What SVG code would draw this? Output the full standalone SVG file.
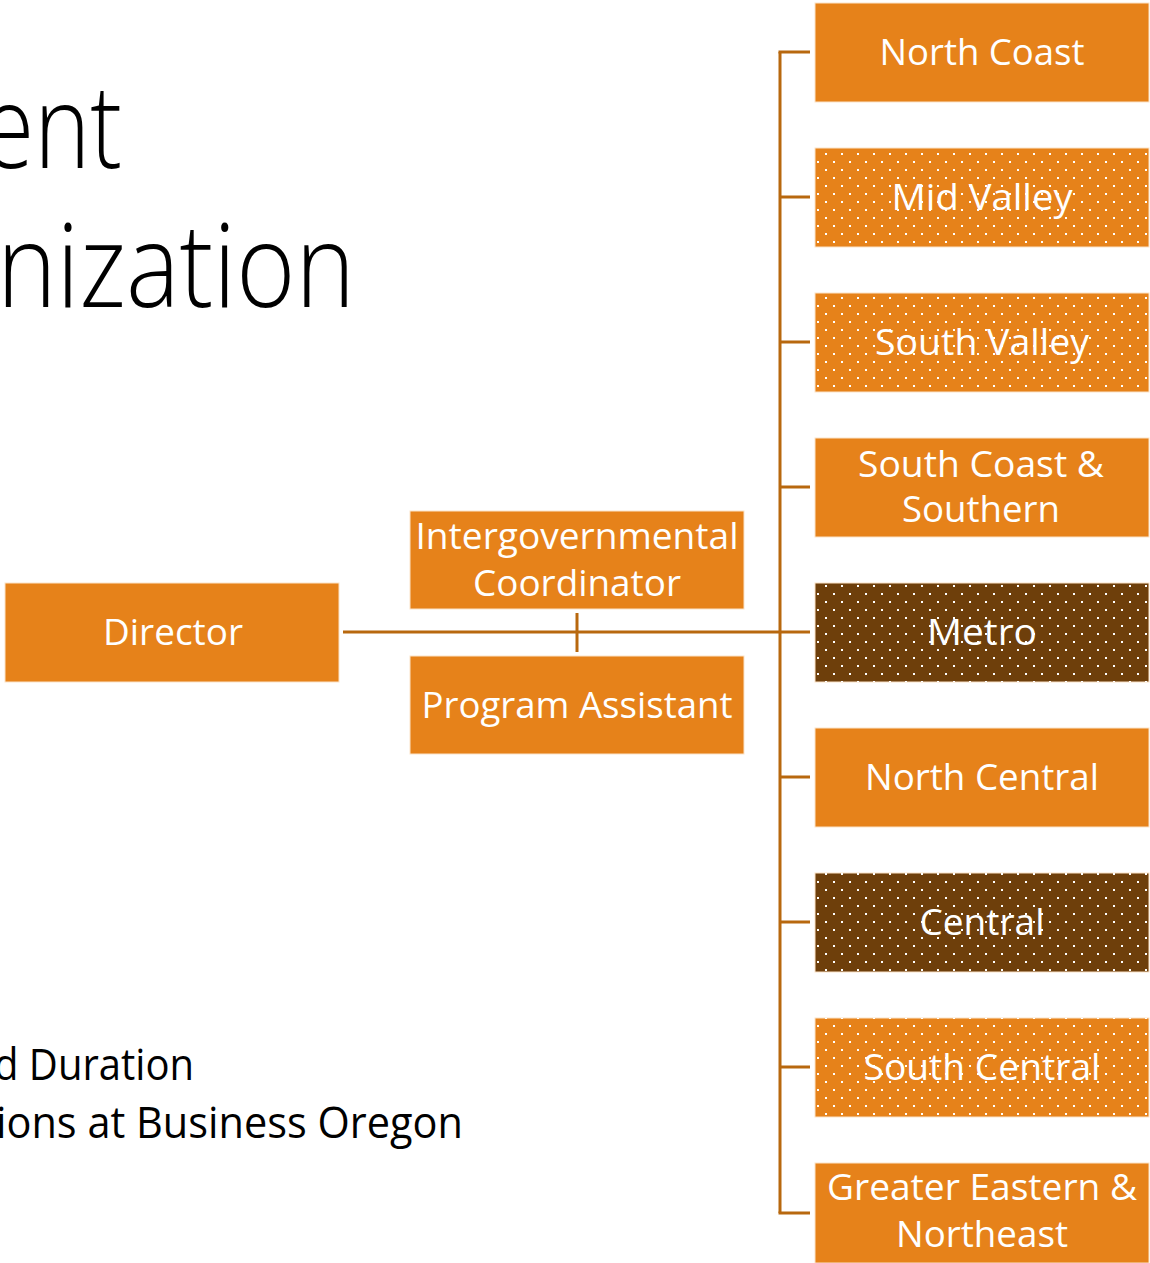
<svg xmlns="http://www.w3.org/2000/svg" width="1150" height="1263" viewBox="0 0 1150 1263">
<defs>
<pattern id="dots" patternUnits="userSpaceOnUse" x="1" y="1" width="16" height="16">
<rect x="0" y="0" width="2" height="2" fill="#ffffff"/>
<rect x="8" y="8" width="2" height="2" fill="#ffffff"/>
</pattern>
</defs>
<style>
.box{fill:#E6821A;stroke:#FBE3C8;stroke-width:1}
.dark{fill:#6E3F0B;stroke:#FBE3C8;stroke-width:1}
.lbl{font-family:"Open Sans","Liberation Sans",sans-serif;font-size:37px;fill:#ffffff;text-anchor:middle}
.ttl{font-family:"Open Sans","Liberation Sans",sans-serif;font-weight:300;fill:#000000}
.body{font-family:"Open Sans","Liberation Sans",sans-serif;font-size:44px;fill:#000000}
.ln{stroke:#B8680E;stroke-width:3;fill:none}
</style>
<rect width="1150" height="1263" fill="#ffffff"/>
<g id="title">
<text class="ttl" x="-18" y="168" font-size="116" textLength="140" lengthAdjust="spacingAndGlyphs">ent</text>
<text class="ttl" x="-3" y="307" font-size="116" textLength="358" lengthAdjust="spacingAndGlyphs">nization</text>
</g>
<g id="body-text">
<text class="body" x="-6" y="1080" textLength="200" lengthAdjust="spacingAndGlyphs">d Duration</text>
<text class="body" x="-4" y="1138" textLength="467" lengthAdjust="spacingAndGlyphs">ions at Business Oregon</text>
</g>
<g id="connectors">
<path class="ln" d="M343 632 H810"/>
<path class="ln" d="M577 613 V652"/>
<path class="ln" d="M780 52 V1213"/>
<path class="ln" d="M778.5 52 H810 M780 197 H810 M780 342 H810 M780 487 H810 M780 777 H810 M780 922 H810 M780 1067 H810 M778.5 1213 H810"/>
</g>
<g id="director">
<rect class="box" x="5" y="583" width="334" height="99"/>
<text class="lbl" x="173" y="645" textLength="140" lengthAdjust="spacingAndGlyphs">Director</text>
</g>
<g id="intergovernmental-coordinator">
<rect class="box" x="410" y="511" width="334" height="98"/>
<text class="lbl" x="577" y="549" textLength="323" lengthAdjust="spacingAndGlyphs">Intergovernmental</text>
<text class="lbl" x="577" y="596" textLength="208" lengthAdjust="spacingAndGlyphs">Coordinator</text>
</g>
<g id="program-assistant">
<rect class="box" x="410" y="656" width="334" height="98"/>
<text class="lbl" x="577" y="718" textLength="311" lengthAdjust="spacingAndGlyphs">Program Assistant</text>
</g>
<g id="north-coast">
<rect class="box" x="815" y="3" width="334" height="99"/>
<text class="lbl" x="982" y="65" textLength="205" lengthAdjust="spacingAndGlyphs">North Coast</text>
</g>
<g id="mid-valley">
<rect class="box" x="815" y="148" width="334" height="99"/>
<rect x="815" y="148" width="334" height="99" fill="url(#dots)"/>
<text class="lbl" x="982" y="210" textLength="181" lengthAdjust="spacingAndGlyphs">Mid Valley</text>
</g>
<g id="south-valley">
<rect class="box" x="815" y="293" width="334" height="99"/>
<rect x="815" y="293" width="334" height="99" fill="url(#dots)"/>
<text class="lbl" x="982" y="355" textLength="214" lengthAdjust="spacingAndGlyphs">South Valley</text>
</g>
<g id="south-coast-southern">
<rect class="box" x="815" y="438" width="334" height="99"/>
<text class="lbl" x="981" y="477" textLength="246" lengthAdjust="spacingAndGlyphs">South Coast &amp;</text>
<text class="lbl" x="981" y="522" textLength="158" lengthAdjust="spacingAndGlyphs">Southern</text>
</g>
<g id="metro">
<rect class="dark" x="815" y="583" width="334" height="99"/>
<rect x="815" y="583" width="334" height="99" fill="url(#dots)"/>
<text class="lbl" x="982" y="645" textLength="110" lengthAdjust="spacingAndGlyphs">Metro</text>
</g>
<g id="north-central">
<rect class="box" x="815" y="728" width="334" height="99"/>
<text class="lbl" x="982" y="790" textLength="234" lengthAdjust="spacingAndGlyphs">North Central</text>
</g>
<g id="central">
<rect class="dark" x="815" y="873" width="334" height="99"/>
<rect x="815" y="873" width="334" height="99" fill="url(#dots)"/>
<text class="lbl" x="982" y="935" textLength="125" lengthAdjust="spacingAndGlyphs">Central</text>
</g>
<g id="south-central">
<rect class="box" x="815" y="1018" width="334" height="99"/>
<rect x="815" y="1018" width="334" height="99" fill="url(#dots)"/>
<text class="lbl" x="982" y="1080" textLength="237" lengthAdjust="spacingAndGlyphs">South Central</text>
</g>
<g id="greater-eastern-northeast">
<rect class="box" x="815" y="1163" width="334" height="100"/>
<text class="lbl" x="982" y="1200" textLength="310" lengthAdjust="spacingAndGlyphs">Greater Eastern &amp;</text>
<text class="lbl" x="982" y="1247" textLength="172" lengthAdjust="spacingAndGlyphs">Northeast</text>
</g>
</svg>
